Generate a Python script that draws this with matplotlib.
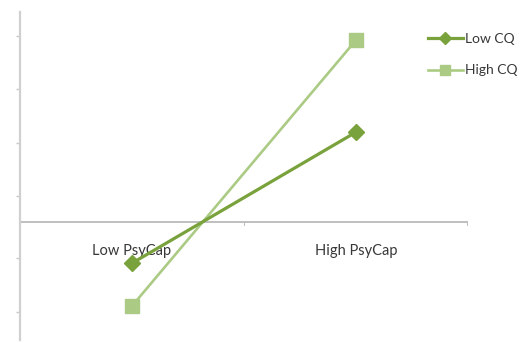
import matplotlib
matplotlib.use('Agg')
import matplotlib.pyplot as plt

categories = ['Low PsyCap', 'High PsyCap']
low_cq = [-0.77, 1.68]
high_cq = [-1.57, 3.40]
ytick_vals = [3.48, 2.49, 1.48, 0.49, -0.67, -1.68]

plt.rcParams['font.family'] = ['Lato', 'DejaVu Sans']

fig = plt.figure(figsize=(5.23, 3.43), dpi=100)
ax = fig.add_axes([20 / 523, 3 / 343, 448 / 523, 328 / 343])

xs = [0.5, 1.5]
ax.plot(xs, low_cq, color='#7AA23C', lw=2.3, marker='D', ms=8.5,
        label='Low CQ', zorder=4)
ax.plot(xs, high_cq, color='#ABCB85', lw=1.9, marker='s', ms=10,
        label='High CQ', zorder=3)

ax.set_xlim(0, 2)
ax.set_ylim(-2.206, 3.925)

# horizontal axis drawn at zero
ax.axhline(0, color='#BFBFBF', lw=1.4, zorder=1)
ax.plot([1, 1], [0, -0.05], color='#BFBFBF', lw=0.8)
ax.plot([2, 2], [0, -0.05], color='#BFBFBF', lw=1.4)
for x, lab in zip(xs, categories):
    ax.text(x, -0.55, lab, ha='center', va='center', fontsize=10.5,
            color='#383838')

for s in ['top', 'right', 'bottom']:
    ax.spines[s].set_visible(False)
ax.spines['left'].set_color('#D0D0D0')
ax.spines['left'].set_linewidth(1.6)
ax.set_xticks([])
ax.set_yticks(ytick_vals)
ax.set_yticklabels([])
ax.tick_params(axis='y', length=3, width=1, color='#C8C8C8')

fig.legend(loc='upper left', bbox_to_anchor=(428 / 523, 1 - 33 / 343),
           frameon=False, fontsize=10, handlelength=2.5,
           handletextpad=0.15, labelspacing=1.4, labelcolor='#383838',
           borderaxespad=0, borderpad=0, markerscale=0.7)

fig.savefig('out.png', dpi=100)
